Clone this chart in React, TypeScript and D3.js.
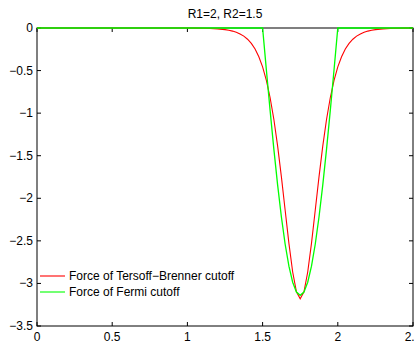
import React from "react";
import * as d3 from "d3";

// values
const redX = [0, 0.5, 1.0, 1.05, 1.1, 1.15, 1.2, 1.25, 1.275, 1.3, 1.325, 1.35, 1.375, 1.4, 1.425, 1.45, 1.475, 1.5,
  1.525, 1.55, 1.575, 1.6, 1.625, 1.65, 1.675, 1.7, 1.725, 1.75, 1.775, 1.8, 1.825, 1.85, 1.875, 1.9, 1.925, 1.95,
  1.975, 2.0, 2.025, 2.05, 2.075, 2.1, 2.125, 2.15, 2.175, 2.2, 2.225, 2.25, 2.3, 2.35, 2.4, 2.45, 2.5];
const redY = [0, 0, -0.0007, -0.0014, -0.0027, -0.0052, -0.01, -0.0191, -0.0264, -0.0364, -0.0503, -0.0694, -0.0956,
  -0.132, -0.181, -0.247, -0.337, -0.457, -0.615, -0.819, -1.075, -1.387, -1.748, -2.141, -2.529, -2.866, -3.098,
  -3.18, -3.098, -2.866, -2.529, -2.141, -1.748, -1.387, -1.075, -0.819, -0.615, -0.457, -0.337, -0.247, -0.181,
  -0.132, -0.0956, -0.0694, -0.0503, -0.0364, -0.0264, -0.0191, -0.01, -0.0052, -0.0027, -0.0014, -0.0007];

const greenX = [0, 1.5, 1.525, 1.55, 1.575, 1.6, 1.625, 1.65, 1.675, 1.7, 1.725, 1.75, 1.775, 1.8, 1.825, 1.85,
  1.875, 1.9, 1.925, 1.95, 1.975, 2.0, 2.5];
const greenY = [0, 0, -0.491, -0.97, -1.426, -1.846, -2.22, -2.54, -2.798, -2.986, -3.101, -3.14, -3.101, -2.986,
  -2.798, -2.54, -2.22, -1.846, -1.426, -0.97, -0.491, 0, 0];

const xTicks = [0, 0.5, 1, 1.5, 2, 2.5];
const yTicks = [0, -0.5, -1, -1.5, -2, -2.5, -3, -3.5];
const title = "R1=2, R2=1.5";
const legendLabels = ["Force of Tersoff\u2212Brenner cutoff", "Force of Fermi cutoff"];
const colors = ["#ff0000", "#00ff00"];

const W = 414;
const H = 346;
const font = "'Liberation Sans', Arial, Helvetica, sans-serif";

const fmt = (v: number) => String(v).replace("-", "\u2212");

export default function App() {
  const x = d3.scaleLinear().domain([0, 2.5]).range([37, 413]);
  const y = d3.scaleLinear().domain([-3.5, 0]).range([326, 28]);
  const [x0, x1] = x.range();
  const [y0, y1] = y.range();

  const line = d3
    .line<[number, number]>()
    .x((d) => x(d[0]))
    .y((d) => y(d[1]));

  const redPath = line(redX.map((v, i) => [v, redY[i]]) as [number, number][]) || "";
  const greenPath = line(greenX.map((v, i) => [v, greenY[i]]) as [number, number][]) || "";

  const tl = 4;
  const fs = 12;
  return (
    <svg
      width={W}
      height={H}
      style={{ position: "absolute", left: 0, top: 0, background: "#fff" }}
      fontFamily={font}
    >
      <rect x={0} y={0} width={W} height={H} fill="#fff" />
      {/* box */}
      <rect x={x0} y={y1} width={x1 - x0} height={y0 - y1} fill="none" stroke="#000" strokeWidth={1} />
      {/* x ticks */}
      {xTicks.map((t) => (
        <g key={"x" + t}>
          <line x1={x(t)} x2={x(t)} y1={y0} y2={y0 - tl} stroke="#000" />
          <line x1={x(t)} x2={x(t)} y1={y1} y2={y1 + tl} stroke="#000" />
          <text x={x(t)} y={y0 + 15} fontSize={fs} textAnchor="middle" fill="#000">
            {fmt(t)}
          </text>
        </g>
      ))}
      {/* y ticks */}
      {yTicks.map((t) => (
        <g key={"y" + t}>
          <line x1={x0} x2={x0 + tl} y1={y(t)} y2={y(t)} stroke="#000" />
          <line x1={x1} x2={x1 - tl} y1={y(t)} y2={y(t)} stroke="#000" />
          <text x={x0 - 4} y={y(t) + 4} fontSize={fs} textAnchor="end" fill="#000">
            {fmt(t)}
          </text>
        </g>
      ))}
      <path d={redPath} fill="none" stroke={colors[0]} strokeWidth={1.1} />
      <path d={greenPath} fill="none" stroke={colors[1]} strokeWidth={1.3} />
      <text x={(x0 + x1) / 2} y={18} fontSize={fs} textAnchor="middle" fill="#000">
        {title}
      </text>
      {/* legend */}
      {legendLabels.map((lab, i) => (
        <g key={lab}>
          <line x1={40} x2={65} y1={276 + i * 16} y2={276 + i * 16} stroke={colors[i]} strokeWidth={1.1} />
          <text x={69} y={280 + i * 16} fontSize={fs} fill="#000">
            {lab}
          </text>
        </g>
      ))}
    </svg>
  );
}
